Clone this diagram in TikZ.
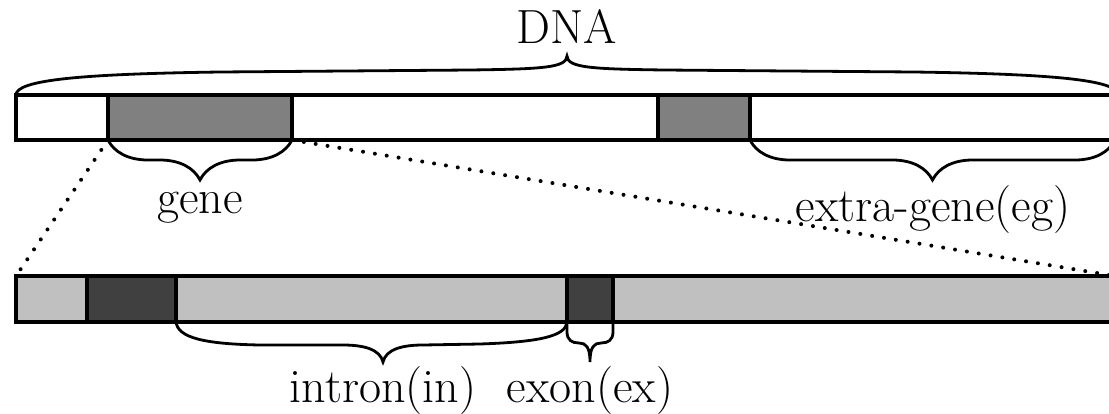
\documentclass[tikz,border=0pt]{standalone}
\usetikzlibrary{decorations.pathreplacing}
\definecolor{midgray}{HTML}{808080}
\definecolor{lightgrayseg}{HTML}{C0C0C0}
\definecolor{darkgrayseg}{HTML}{404040}
\begin{document}
\begin{tikzpicture}[x=0.5pt,y=-0.5pt,
  seg/.style={draw=black,line width=1.7pt,inner sep=0pt,outer sep=0pt,anchor=north west},
  toprow/.style={seg,minimum height=22.5pt},
  botrow/.style={seg,minimum height=23pt},
  bracepath/.style={line width=1.4pt},
  stdbrace/.style={bracepath,decorate,decoration={brace,mirror,amplitude=20pt}},
  lbl/.style={font=\fontsize{24}{28}\selectfont,inner sep=0pt,anchor=base},
  zoomline/.style={line width=2pt,line cap=round,dash pattern=on 0pt off 6pt}]
\useasboundingbox (0,0) rectangle (1109,413);
\clip (0,0) rectangle (1109,413);

% top (DNA) row
\node[toprow,fill=white,minimum width=46pt] (tA) at (16,95) {};
\node[toprow,fill=midgray,minimum width=92pt] (tGene) at (tA.north east) {};
\node[toprow,fill=white,minimum width=183pt] (tB) at (tGene.north east) {};
\node[toprow,fill=midgray,minimum width=46pt] (tG2) at (tB.north east) {};
\node[toprow,fill=white,minimum width=182.5pt] (tC) at (tG2.north east) {};

% bottom (gene) row
\node[botrow,fill=lightgrayseg,minimum width=35.5pt] (bA) at (16,276) {};
\node[botrow,fill=darkgrayseg,minimum width=44.5pt] (bB) at (bA.north east) {};
\node[botrow,fill=lightgrayseg,minimum width=195.5pt] (bC) at (bB.north east) {};
\node[botrow,fill=darkgrayseg,minimum width=23pt] (bD) at (bC.north east) {};
\node[botrow,fill=lightgrayseg,minimum width=251pt] (bE) at (bD.north east) {};

% DNA brace
\draw[bracepath] (tA.north west) .. controls (16,80) and (80,74) .. (220,72)
  -- (470,70) .. controls (540,69) and (567,68) .. (567,56)
  .. controls (567,68) and (594,69) .. (664,70) -- (914,72)
  .. controls (1054,74) and (1118,80) .. (1118,95);
\node[lbl] (dna) at (567,43) {DNA};

% gene and extra-gene braces
\draw[stdbrace] (tGene.south west) -- (tGene.south east);
\node[lbl] (gene) at (200,213) {gene};
\draw[stdbrace] (tC.south west) -- (tC.south east);
\node[lbl] (eg) at (933,221) {extra-gene(eg)};

% zoom lines
\draw[zoomline] (tGene.south west) -- (bA.north west);
\draw[zoomline] (tGene.south east) -- (bE.north east);

% intron brace
\draw[bracepath] (bC.south west) .. controls (178,338) and (205,344) .. (260,345)
  -- (343,345) .. controls (363,345) and (380,349) .. (383,362)
  .. controls (386,349) and (403,345) .. (423,345) -- (480,344)
  .. controls (540,342) and (566,336) .. (bC.south east);
\node[lbl] (intron) at (383,402) {intron(in)};

% exon brace
\draw[bracepath] (bD.south west) -- (567,332) .. controls (567,340) and (572,343) .. (579,343)
  .. controls (586,343) and (590,347) .. (590,362)
  .. controls (590,347) and (594,343) .. (601,343)
  .. controls (608,343) and (613,340) .. (613,332) -- (bD.south east);
\node[lbl] (exon) at (590,402) {exon(ex)};
\end{tikzpicture}
\end{document}
